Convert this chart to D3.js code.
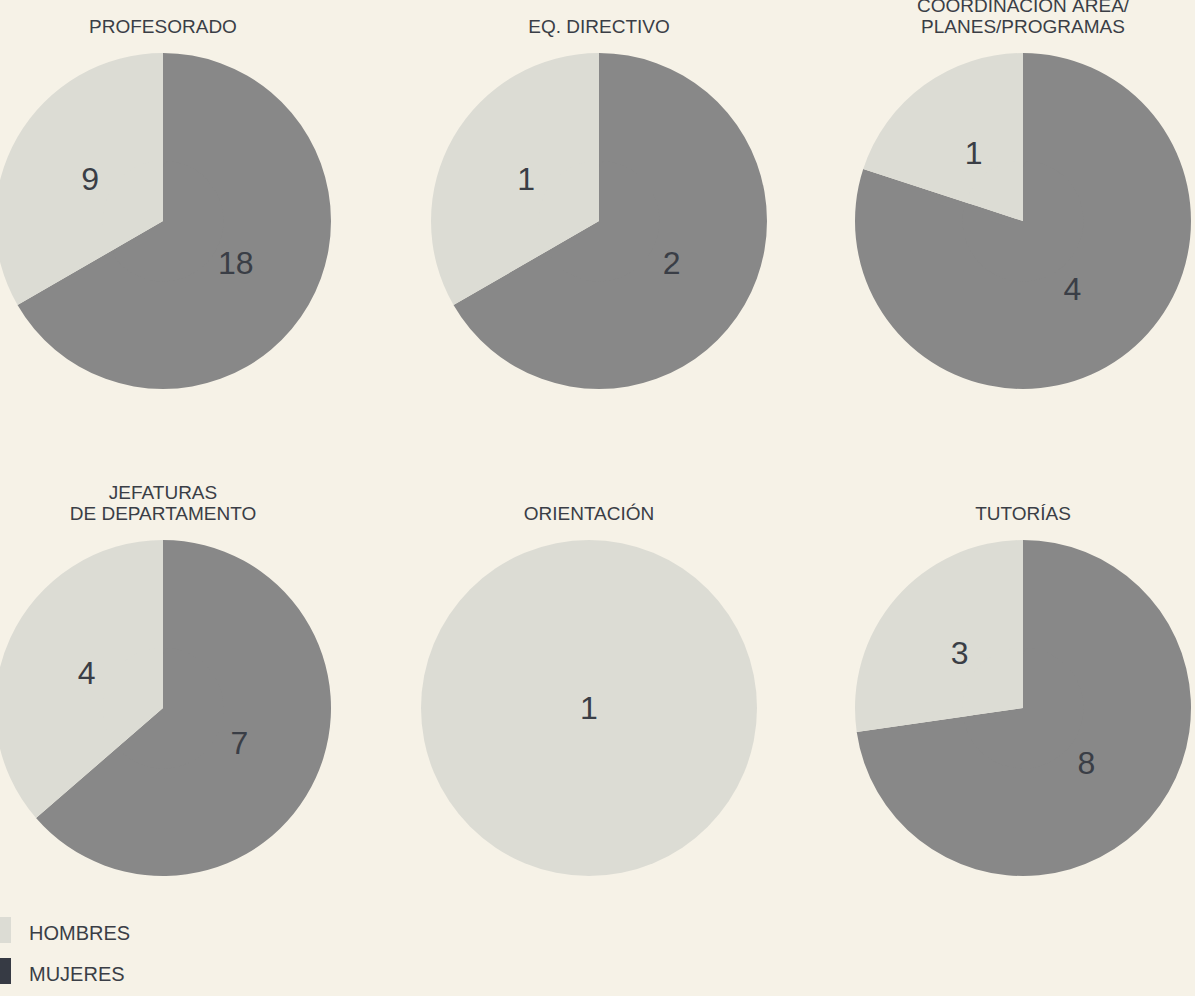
<!DOCTYPE html>
<html>
<head>
<meta charset="utf-8">
<script src="https://cdn.jsdelivr.net/npm/d3@7/dist/d3.min.js"></script>
<style>
  html, body { margin: 0; padding: 0; background: #f6f2e7; }
  svg { display: block; font-family: "Liberation Sans", Arial, sans-serif; }
</style>
</head>
<body>
<svg id="pies" width="1195" height="996"></svg>
<script>
// data
const groups = [
  ["PROFESORADO"],
  ["EQ. DIRECTIVO"],
  ["COORDINACIÓN ÁREA/", "PLANES/PROGRAMAS"],
  ["JEFATURAS", "DE DEPARTAMENTO"],
  ["ORIENTACIÓN"],
  ["TUTORÍAS"]
];
const hombres = [9, 1, 1, 4, 1, 3];
const mujeres = [18, 2, 4, 7, 0, 8];
const seriesNames = ["HOMBRES", "MUJERES"];

const svg = d3.select('#pies');
const r = 168;
const textColor = "#3a3e46";
const sliceColor = d3.scaleOrdinal().domain(seriesNames).range(["#dcdcd4", "#888888"]);
const legendColor = d3.scaleOrdinal().domain(seriesNames).range(["#dcdcd4", "#363a44"]);

// grid of pies (column centers drift a little in the original)
const colX = [[163, 599, 1023], [163, 589, 1023]];
const rowY = [221, 708];

// outer part of each slice is sharp, only the corner at the center is rounded
const outerArc = d3.arc().innerRadius(r * 0.3).outerRadius(r);
const innerArc = d3.arc().innerRadius(0).outerRadius(r * 0.36).cornerRadius(7);
const fullArc = d3.arc().innerRadius(0).outerRadius(r);
const labelArc = d3.arc().innerRadius(0).outerRadius(r);
const isFull = d => d.endAngle - d.startAngle >= 2 * Math.PI - 1e-6;

groups.forEach((title, i) => {
    const row = Math.floor(i / 3), col = i % 3;
    const cx = colX[row][col], cy = rowY[row];
    const g = svg.append('g').attr('transform', `translate(${cx},${cy})`);

    // mujeres go clockwise from 12 o'clock, hombres fill the rest
    const rows = [
        {name: "MUJERES", value: mujeres[i]},
        {name: "HOMBRES", value: hombres[i]}
    ];
    const arcs = d3.pie().sort(null).value(d => d.value)(rows).filter(d => d.value > 0);

    const slice = g.selectAll('g.slice')
        .data(arcs)
        .enter()
        .append('g')
        .attr('class', 'slice')
        .attr('fill', d => sliceColor(d.data.name));

    slice.filter(isFull).append('path').attr('d', fullArc);
    slice.filter(d => !isFull(d)).append('path').attr('d', outerArc);
    slice.filter(d => !isFull(d)).append('path').attr('d', innerArc);

    g.selectAll('text.val')
        .data(arcs)
        .enter()
        .append('text')
        .attr('class', 'val')
        .attr('x', d => isFull(d) ? 0 : labelArc.centroid(d)[0])
        .attr('y', d => isFull(d) ? 0 : labelArc.centroid(d)[1])
        .attr('text-anchor', 'middle')
        .attr('dominant-baseline', 'central')
        .attr('font-size', 32)
        .attr('fill', textColor)
        .text(d => d.value);

    // title, last line sits just above the pie
    const lastBase = -r - 20;
    g.selectAll('text.title')
        .data(title)
        .enter()
        .append('text')
        .attr('class', 'title')
        .attr('x', 0)
        .attr('y', (d, k) => lastBase - (title.length - 1 - k) * 21)
        .attr('text-anchor', 'middle')
        .attr('font-size', 19)
        .attr('fill', textColor)
        .text(d => d);
});

// legend
const legend = svg.append('g').attr('transform', 'translate(0,917)');
const item = legend.selectAll('g')
    .data(seriesNames)
    .enter()
    .append('g')
    .attr('transform', (d, i) => `translate(0,${i * 41})`);

item.append('rect')
    .attr('x', -15)
    .attr('y', 0)
    .attr('width', 26)
    .attr('height', 26)
    .attr('fill', d => legendColor(d));

item.append('text')
    .attr('x', 29)
    .attr('y', 23)
    .attr('font-size', 20)
    .attr('fill', textColor)
    .text(d => d);
</script>
</body>
</html>
